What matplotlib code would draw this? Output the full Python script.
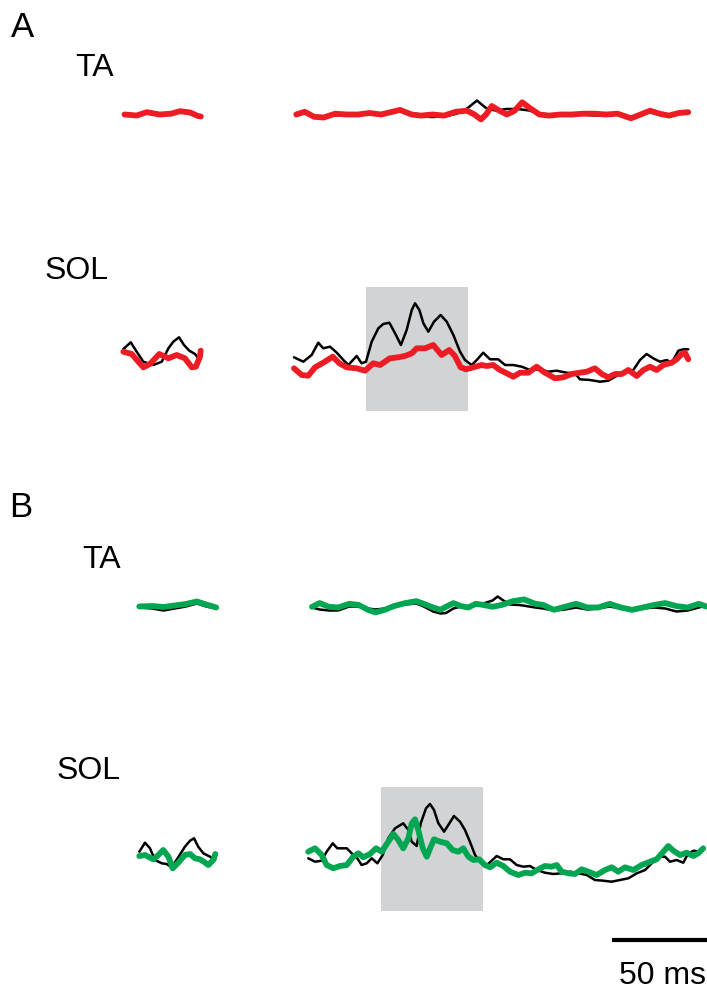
import matplotlib
matplotlib.use("Agg")
import matplotlib.pyplot as plt
from matplotlib.patches import Rectangle

plt.rcParams['font.family'] = ['Liberation Sans', 'DejaVu Sans']

# ---- data: time in ms, amplitude in a.u. (traces blanked around the stimulus)
# panel A, TA
ta_a_pre_t = [-65, -58.6, -53.3, -46.5, -40.5, -35.8, -30.5, -26.3, -24.8]
ta_a_pre_ctrl = [0.5, -1, 1.5, -1, 0.5, 3, 1, -1.5, -2]
ta_a_pre_cond = [0, -1, 2.3, 0, 0.8, 3.3, 2, -1.5, -2]

ta_a_post_t = [25.4, 29.8, 34.8, 39.8, 45.9, 51.9, 57.9, 63.9, 70, 76, 80, 86.1, 91.1,
               97.1, 103.2, 109.2, 115.2, 119.2, 122.6, 125.3, 128.3, 132.3, 136.3,
               140.3, 144.3, 148.3, 153.4, 158.4, 164.4, 170.4, 176.5, 182.5, 188.5,
               194.5, 201.6, 206.6, 211.6, 216.6, 221.6, 226.7, 231.7]
ta_a_post_cond = [0, 2.7, -2.3, -3, 0.8, 0, 0, 1.5, 0, 2.7, 4.6, 0, -1.1, 0, -1.1, 2.7,
                  3.8, 0, -4.9, 0, 8.5, 3.8, 0, 3.8, 12.2, 6.5, 0, -1.1, 0, 0, 0.8, 0.8,
                  0, 0.8, -3.8, 0, 3.8, 0.8, -1.1, 1.5, 2.3]
ta_a_post_ctrl_t = [25.4, 29.8, 34.8, 39.8, 45.9, 51.9, 57.9, 63.9, 70, 76, 80, 86.1,
                    91.1, 97.1, 103.2, 109.2, 113, 116, 120.5, 123, 125.3, 130, 136,
                    142, 148, 153, 158, 164, 170, 176, 182, 188, 194, 201, 206, 211,
                    216, 221, 226, 231.7]
ta_a_post_ctrl = [1, 1.5, -1.5, -2, -1, -0.5, 0, 0.5, 0.5, 2, 3.5, 0, -2, -2.5, -2, 0.5,
                  3, 7, 14, 10, 6.5, 4, 5.5, 5.5, 4, 1, -1, -1, -0.5, 0, -1, -1, 0,
                  -2.5, 0, 2.5, 0, -1.5, 0.5, 2]

# panel A, SOL
sol_a_pre_ctrl_t = [-65.6, -61.7, -58.6, -55.1, -49.8, -45.4, -41.9, -39.3, -36.3,
                    -33.7, -30.9, -27.9, -26.2, -24.9]
sol_a_pre_ctrl = [16, 22.7, 13.3, 3.3, 0, 3.3, 16.7, 23.3, 27.7, 20, 14.3, 11, 7, 12]
sol_a_pre_cond_t = [-65.6, -61.2, -57.7, -55.1, -51.6, -46.7, -41.9, -37.5, -33.2,
                    -29.6, -27.4, -25.3, -24.9]
sol_a_pre_cond = [13.3, 11, 3.3, -2.3, 1, 11, 6.7, 10, 6.7, -2.3, -1.7, 8.3, 14.3]

sol_a_post_ctrl_t = [24.2, 29.1, 33.5, 37, 39.6, 43.2, 46.7, 50.2, 52.8, 57.2, 59.8,
                     62.1, 65.1, 68.6, 71.2, 74.4, 77.4, 80.5, 83.5, 86.2, 87.9, 90.2,
                     92.3, 94.9, 97.9, 101.4, 104.6, 108.1, 111.6, 114.2, 117.7, 120.4,
                     123.8, 127.4, 131.7, 135.3, 139.6, 144.1, 148.4, 153.7, 158.1,
                     162.5, 167.7, 172.1, 174.7, 180, 185.3, 189.6, 193.2, 197.5, 202.8,
                     206.3, 209.8, 213.3, 216.8, 220.4, 223, 226.5, 229.1, 231.7]
sol_a_post_ctrl = [7.7, 3.3, 10, 22.3, 16.7, 18.3, 12.3, 5, 0, 9, 1.7, 3.3, 23.3, 36.7,
                   41, 42.3, 31.7, 20, 35, 55, 61.7, 55, 41.7, 33.3, 43.3, 50, 43.3, 30,
                   13.3, 5, 0, 5, 12.3, 5.7, 5.7, 0, 0, -1.7, -5, -4.3, -6.7, -5.7, -7.7,
                   -8.3, -14.3, -15, -16.7, -15.7, -11.7, -8.3, -5, 5, 11, 6.7, 3.3, 5,
                   2.3, 14.3, 15.7, 15.7]
sol_a_post_cond_t = [24.2, 28.3, 31.7, 35.3, 39.6, 44.6, 48.1, 51.9, 57.2, 61.6, 65.9,
                     69.5, 74.7, 79.1, 82.6, 86.2, 88.8, 93.2, 97.5, 101.9, 105.9, 108.9,
                     111.9, 114.7, 118.6, 123, 125.6, 129.1, 132.6, 136.2, 139.6, 143.2,
                     147.5, 151.9, 156.3, 161.6, 165.9, 170.4, 174.7, 178.3, 182.6,
                     186.2, 189.6, 193.2, 196.7, 200.2, 204.6, 208.1, 211.6, 215.1,
                     218.6, 223, 225.6, 228.3, 230, 231.7]
sol_a_post_cond = [-3.3, -10, -10.7, -2.3, 2.3, 8.3, 1.7, -2.3, -3.3, -5.7, 1.7, 0, 6.7,
                   7.7, 9, 11.7, 16.7, 16.7, 20, 10, 15, 9, -2.3, -4.3, -2.3, 0, -1, 0,
                   -5, -8.3, -11.7, -7.7, -7.7, -1.7, -7.7, -13.3, -12.3, -9, -7.7,
                   -6.7, -3.3, -9, -12.3, -9, -9, -5, -11, -5, -1.7, -5, 0, 2.3, 5.7,
                   11, 12.3, 5.7]

# panel B, TA
ta_b_pre_t = [-65.1, -58.3, -52.4, -46.5, -40.6, -34.8, -29.9, -24.6]
ta_b_pre_ctrl = [-1, -2, -4, -2, 0, 3, 0, -2]
ta_b_pre_cond = [0, 0.5, -0.5, 1, 2.5, 5, 2, -1]

ta_b_post_t = [25.8, 29.8, 34.7, 39.5, 45.4, 50.3, 55.2, 59.2, 64.1, 68.9, 74.8, 80.6,
               84.6, 89.5, 93.4, 96.3, 100.2, 104.2, 108.1, 111.9, 115.9, 120.8, 125.7,
               131.5, 137.4, 143.3, 147.4, 153.1, 158.9, 164.8, 170.7, 176.5, 182.4,
               188.3, 194.2, 200, 205.9, 211.7, 217.6, 223.5, 229.4, 233.2]
ta_b_post_cond = [-0.3, 3.4, -0.3, -1, 2.7, 1.6, -3.3, -5.9, -3.3, 0.4, 3.4, 5.3, 2.7,
                  -1, -3.3, -0.3, 3.4, 0.4, -1, 2.7, 1.6, -0.3, 1.6, 5.3, 7.1, 2.7, 1.6,
                  -3.3, -0.3, 2.7, -1, -1, 2.7, -1, -3.3, -1, 1.6, 3.4, 0.4, -1, 2.7, 0]
ta_b_post_ctrl_t = [25.8, 29.8, 34.7, 39.5, 45.4, 50.3, 55.2, 59.2, 64.1, 68.9, 74.8,
                    80.6, 84.6, 89.5, 93.4, 96.3, 100.2, 104.2, 108.1, 111.9, 115.9,
                    120.8, 123.5, 126.5, 130, 135, 140, 143.3, 147.4, 153.1, 158.9,
                    164.8, 170.7, 176.5, 182.4, 188.3, 194.2, 200, 205.9, 211.7, 217.6,
                    223.5, 229.4, 231.5]
ta_b_post_ctrl = [-1, -3, -4, -4, 0, 0, -2, -3, -2, 0, 2, 3, 0, -5, -7, -6.5, -2, 0, -1,
                  1, 3, 6, 10, 6, 2, 1.5, 0, -1, -2, -4, -3, -1, -3, -2, 0, -2, -3, -2,
                  -1, -2, -5, -4, -1, 0]

# panel B, SOL
sol_b_pre_t = [-65.1, -62.1, -59.5, -56.8, -53.3, -50.7, -48.1, -44.6, -41.1, -38.4,
               -36.3, -34.1, -31.4, -27.9, -25.3, -24.7]
sol_b_pre_ctrl = [13.3, 22.3, 16.7, 5, 1.7, 1, -2.3, 7.7, 18.3, 24.3, 26.7, 18.3, 11.7,
                  8.3, 5, 10]
sol_b_pre_cond_t = [-65.1, -62.1, -57.7, -55.1, -52.5, -49.8, -47.5, -44.6, -41.1,
                    -38.4, -35.8, -33.2, -31.1, -28.8, -26.2, -25.1]
sol_b_pre_cond = [9, 10, 5.7, 10, 15, 8.3, -3.3, 2.3, 10, 11, 6.7, 5.7, 3.3, 0, 5, 11]

sol_b_post_ctrl_t = [23.8, 27.4, 30.9, 33.5, 36.7, 39.1, 41.4, 44.1, 46.7, 49.6, 51.9,
                     54.6, 57.2, 60.2, 63, 65.9, 69.5, 73.8, 76.5, 78.3, 80.9, 83, 85.8,
                     87.9, 90, 92.3, 95.3, 98.1, 100.5, 103.7, 106.3, 108.9, 111.6,
                     114.2, 116.8, 119.8, 123, 126.5, 130, 133.5, 137, 140.5, 144.1,
                     148.4, 152.8, 157.2, 161.6, 165.9, 170.4, 174.7, 179.1, 183.5,
                     187.9, 192.3, 196.7, 201.1, 204.6, 208.1, 211.6, 214.2, 217.7,
                     221.2, 223.8, 226.8, 229.6]
sol_b_post_ctrl = [6.7, 3.3, 4.3, 13.3, 21.7, 16.7, 16.7, 16.7, 11.7, 6.7, 0, 1.7, 6.7,
                   1.7, 10, 26.7, 36.7, 41.7, 35, 23.3, 19, 41.7, 56.7, 61, 55, 41.7,
                   33.3, 41.7, 49, 43.3, 35, 23.3, 10, 3.3, -1.7, 3.3, 9, 5.7, 5.7, 0,
                   -1.7, -1, -5, -7.7, -9, -8.3, -6.7, -8.3, -10, -15, -15.7, -16.7,
                   -15, -13.3, -8.3, -5, 1.7, 8.3, 8.3, 3.3, 5, 2.3, 11.7, 14.3, 13.3]
sol_b_post_cond_t = [23.8, 27.4, 30.9, 33.5, 37, 40.5, 44.1, 47.5, 50.2, 52.8, 56.3,
                     59.5, 62.5, 65.4, 68.6, 71.2, 73.8, 76.5, 78.3, 80, 81.7, 84.1,
                     86.2, 88.3, 90, 93.2, 96.7, 99.8, 102.8, 105.4, 108.1, 110.7,
                     113.8, 116.8, 119.5, 123, 126.5, 130, 134.4, 137.9, 141.4, 144.9,
                     148.4, 151.9, 154.6, 157.2, 160.7, 164.2, 167.7, 171.2, 175.6, 180,
                     183.5, 187, 190.5, 194.9, 199.3, 203.7, 207.2, 210.7, 213.3, 216,
                     219.5, 223, 226.5, 229.1, 231.7]
sol_b_post_cond = [13.3, 16.7, 10, 0, -3.3, -1, 0, 8.3, 11.7, 7.7, 11, 16.7, 13.3, 21.7,
                   31, 25, 16.7, 26.7, 41.7, 45.7, 35, 16.7, 8.3, 18.3, 25.7, 23.3,
                   21.7, 15, 13.3, 16.7, 8.3, 5, 5.7, 0, -2.3, 2.3, -1, -6.7, -10, -7.7,
                   -8.3, -4.3, -1, -1.7, 0, -6.7, -8.3, -9, -4.3, -6.7, -10, -5, -2.3,
                   -6.7, -2.3, -5, 0, 3.3, 5.7, 13.3, 19, 14.3, 10, 12.3, 9, 11.7, 16.7]

window_ms = (62, 116)
window_amp = (-46, 78)
scalebar_ms = 50

# ---- layout (figure pixels)
W, H = 707, 994
PX_PER_MS = 1.9
RED = '#ed1c24'
GREEN = '#00a651'

fig = plt.figure(figsize=(W / 100, H / 100), dpi=100)


def panel_axes(t0_px):
    ax = fig.add_axes([0, 0, 1, 1], facecolor='none')
    ax.set_xlim(-t0_px / PX_PER_MS, (W - t0_px) / PX_PER_MS)
    ax.set_ylim(-H, 0)
    ax.axis('off')
    return ax


def trace(ax, t, v, base, color, lw, z):
    ax.plot(t, [a - base for a in v], color=color, lw=lw, zorder=z,
            solid_joinstyle='round', solid_capstyle='round')


axA = panel_axes(248)
axB = panel_axes(263)

for ax, col, ta_base, sol_base, d in [
        (axA, RED, 114.5, 365,
         (ta_a_pre_t, ta_a_pre_ctrl, ta_a_pre_t, ta_a_pre_cond,
          ta_a_post_ctrl_t, ta_a_post_ctrl, ta_a_post_t, ta_a_post_cond,
          sol_a_pre_ctrl_t, sol_a_pre_ctrl, sol_a_pre_cond_t, sol_a_pre_cond,
          sol_a_post_ctrl_t, sol_a_post_ctrl, sol_a_post_cond_t, sol_a_post_cond)),
        (axB, GREEN, 606.5, 865,
         (ta_b_pre_t, ta_b_pre_ctrl, ta_b_pre_t, ta_b_pre_cond,
          ta_b_post_ctrl_t, ta_b_post_ctrl, ta_b_post_t, ta_b_post_cond,
          sol_b_pre_t, sol_b_pre_ctrl, sol_b_pre_cond_t, sol_b_pre_cond,
          sol_b_post_ctrl_t, sol_b_post_ctrl, sol_b_post_cond_t, sol_b_post_cond))]:
    ax.add_patch(Rectangle((window_ms[0], window_amp[0] - sol_base),
                           window_ms[1] - window_ms[0], window_amp[1] - window_amp[0],
                           facecolor='#d1d3d4', edgecolor='none', zorder=1))
    for i in range(0, 16, 4):
        base = ta_base if i < 8 else sol_base
        trace(ax, d[i], d[i + 1], base, 'black', 1.8, 2)
        trace(ax, d[i + 2], d[i + 3], base, col, 4.2, 3)

# scale bar
t_end = (W - 263) / PX_PER_MS
axB.plot([t_end - scalebar_ms, t_end], [-940, -940], color='black', lw=3,
         solid_capstyle='butt', clip_on=False)


def label(x, y, s, size):
    fig.text(x / W, 1 - y / H, s, fontsize=size, ha='left', va='baseline')


label(11, 37, 'A', 25)
label(75, 76, 'TA', 23)
label(45, 279, 'SOL', 23)
label(9, 517, 'B', 25)
label(82, 568, 'TA', 23)
label(57, 779, 'SOL', 23)
label(619, 984, f'{scalebar_ms} ms', 23)

fig.savefig('out.png', dpi=100)
